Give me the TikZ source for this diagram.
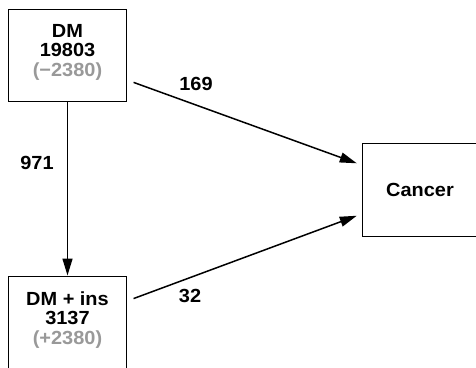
\documentclass[tikz,border=0pt]{standalone}
\usepackage{fontspec}
\setmainfont[FakeStretch=1.05]{Liberation Sans}
\usetikzlibrary{arrows.meta}
\definecolor{moved}{gray}{0.6}

\begin{document}
\begin{tikzpicture}[x=1pt, y=-1pt,
  box/.style={draw, line width=1pt, minimum width=118pt, minimum height=92pt,
    inner sep=0pt, align=center, font=\bfseries\fontsize{19}{19.5}\selectfont},
  shifted/.style={text depth=10pt},
  flow/.style={line width=1.5pt, -{Triangle[length=17pt,width=10pt]}},
  count/.style={font=\bfseries\fontsize{19}{20}\selectfont}]
  \useasboundingbox (0,0) rectangle (476,367);
  % states
  \node[box, shifted] (dm) at (67.5,55) {DM\\19803\\\textcolor{moved}{(−2380)}};
  \node[box, shifted, minimum height=94pt] (ins) at (67.5,323) {DM + ins\\3137\\\textcolor{moved}{(+2380)}};
  \node[box, minimum width=116pt, minimum height=93pt] (cancer) at (420,189.5) {Cancer};
  % transitions
  \draw[flow] (dm.south) -- (ins.north);
  \draw[flow, shorten <=7pt, shorten >=5pt] ([yshift=-25pt]dm.east) -- ([yshift=24.5pt]cancer.west);
  \draw[flow, shorten <=7pt, shorten >=5pt] ([yshift=22pt]ins.east) -- ([yshift=-24.5pt]cancer.west);
  % counts
  \node[count] (n169) at (196,83.5) {169};
  \node[count] (n971) at (37,163) {971};
  \node[count] (n32) at (190,296) {32};
\end{tikzpicture}
\end{document}
